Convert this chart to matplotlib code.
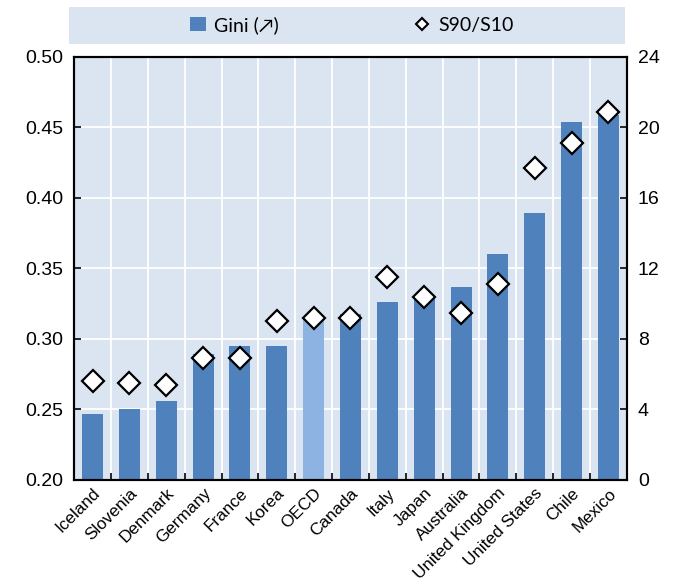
import matplotlib
matplotlib.use("Agg")
import matplotlib.pyplot as plt
import numpy as np
from matplotlib.patches import Rectangle, Patch
from matplotlib.lines import Line2D

plt.rcParams['font.family'] = ['Liberation Sans', 'DejaVu Sans']

countries = ["Iceland", "Slovenia", "Denmark", "Germany", "France", "Korea", "OECD",
             "Canada", "Italy", "Japan", "Australia", "United Kingdom", "United States",
             "Chile", "Mexico"]
gini = [0.247, 0.250, 0.256, 0.289, 0.295, 0.295, 0.315,
        0.318, 0.326, 0.331, 0.337, 0.360, 0.389, 0.454, 0.459]
s90_s10 = [5.6, 5.5, 5.4, 6.9, 6.9, 9.0, 9.2,
           9.2, 11.5, 10.4, 9.5, 11.1, 17.7, 19.1, 20.9]

bar_color = "#4f81bd"
oecd_color = "#8db3e2"
bg = "#dbe5f1"

fig = plt.figure(figsize=(6.74, 5.85), dpi=100)
ax = fig.add_axes([0.110, 0.1795, 0.820, 0.7231])
ax.set_facecolor(bg)

x = np.arange(len(countries))
colors = [oecd_color if c == "OECD" else bar_color for c in countries]
ax.bar(x, np.array(gini) - 0.20, bottom=0.20, width=0.57, color=colors, zorder=2)

ax.set_xlim(-0.5, len(countries) - 0.5)
ax.set_ylim(0.20, 0.50)
ax.set_yticks(np.arange(0.20, 0.501, 0.05))
ax.set_yticklabels([f"{v:.2f}" for v in np.arange(0.20, 0.501, 0.05)], fontsize=14)

# grille : lignes blanches
for yv in np.arange(0.25, 0.50, 0.05):
    ax.axhline(yv, color="white", lw=1.3, zorder=1)
for xv in np.arange(0.5, len(countries) - 0.5, 1):
    ax.axvline(xv, color="white", lw=1.3, zorder=1)

ax.set_xticks(x)
ax.set_xticklabels(countries, rotation=45, ha="right", rotation_mode="anchor", fontsize=12.3)
ax.tick_params(axis="x", length=0, pad=4)
ax.set_xticks(np.arange(0.5, len(countries) - 0.5, 1), minor=True)
ax.tick_params(axis="x", which="minor", direction="in", length=5, width=1.2)
ax.tick_params(axis="y", direction="in", length=5, width=1.2, pad=8)

for side in ["top", "left", "right", "bottom"]:
    ax.spines[side].set_linewidth(1.5)

ax2 = ax.twinx()
ax2.set_ylim(0, 24)
ax2.set_yticks(np.arange(0, 25, 4))
ax2.tick_params(axis="y", direction="in", length=5, width=1.2, labelsize=14, pad=8)
ax2.plot(x, s90_s10, linestyle="none", marker="D", ms=11.5, mfc="white", mec="black",
         mew=1.6, zorder=3)
for side in ["top", "left", "right", "bottom"]:
    ax2.spines[side].set_linewidth(1.5)

# légende en haut
fig.patches.append(Rectangle((0.103, 0.9248), 0.825, 0.064, transform=fig.transFigure,
                             facecolor=bg, edgecolor="none", zorder=0))
handles = [Patch(facecolor=bar_color, edgecolor="none", label="Gini (↗)"),
           Line2D([], [], linestyle="none", marker="D", ms=6.5, mfc="white", mec="black",
                  mew=1.5, label="S90/S10")]
fig.legend(handles=handles, loc="center", bbox_to_anchor=(0.522, 0.957), ncol=2,
           frameon=False, columnspacing=7, handlelength=0.8, handletextpad=0.4,
           prop={'family': ['Lato', 'DejaVu Sans'], 'size': 14})

fig.savefig("out.png", dpi=100)
